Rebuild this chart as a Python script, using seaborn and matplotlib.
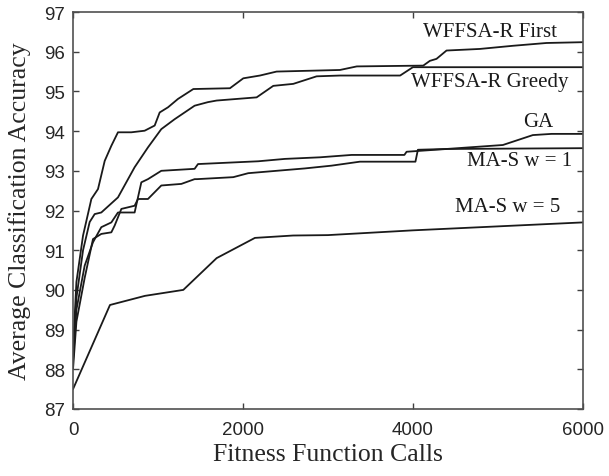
import pandas as pd
import seaborn as sns
import matplotlib.pyplot as plt

# values
first_x = [0, 40, 118, 216, 294, 373, 451, 529, 686, 843, 961, 1020, 1118, 1235, 1416, 1847, 2004,
           2200, 2396, 3141, 3340, 4122, 4200, 4278, 4396, 4788, 5180, 5573, 6000]
first_y = [88.5, 90.2, 91.37, 92.29, 92.54, 93.25, 93.63, 93.97, 93.97, 94.01, 94.14, 94.47, 94.6,
           94.81, 95.06, 95.08, 95.33, 95.40, 95.5, 95.54, 95.63, 95.65, 95.77, 95.82, 96.03, 96.07,
           96.15, 96.22, 96.24]

greedy_x = [0, 40, 118, 196, 255, 333, 529, 725, 882, 1039, 1196, 1431, 1588, 1690, 2161, 2357,
            2592, 2867, 3141, 3850, 4000, 6000]
greedy_y = [88.3, 89.8, 91.0, 91.71, 91.91, 91.95, 92.33, 93.09, 93.59, 94.05, 94.3, 94.64, 94.73,
            94.77, 94.85, 95.14, 95.19, 95.38, 95.4, 95.4, 95.61, 95.61]

ga_x = [0, 40, 137, 235, 333, 451, 490, 569, 725, 765, 882, 1039, 1275, 1431, 1459, 1886, 2062,
        2729, 3043, 3376, 4030, 4059, 4396, 5059, 5412, 5632, 6000]
ga_y = [88.0, 89.2, 90.3, 91.28, 91.41, 91.45, 91.62, 92.04, 92.12, 92.29, 92.29, 92.63, 92.67,
        92.79, 92.79, 92.84, 92.94, 93.06, 93.13, 93.23, 93.23, 93.53, 93.55, 93.65, 93.90, 93.93, 93.93]

mas1_x = [0, 40, 137, 235, 333, 451, 529, 725, 804, 882, 1039, 1431, 1471, 2180, 2494, 2906, 3279,
          3900, 3926, 4400, 6000]
mas1_y = [88.2, 89.5, 90.61, 91.2, 91.58, 91.70, 91.95, 91.95, 92.71, 92.79, 93.0, 93.05, 93.17,
          93.24, 93.30, 93.34, 93.40, 93.40, 93.48, 93.55, 93.57]

mas5_x = [0, 435, 847, 1298, 1690, 2141, 2590, 3000, 4000, 5000, 5500, 6000]
mas5_y = [87.5, 89.62, 89.85, 90.0, 90.8, 91.31, 91.37, 91.38, 91.5, 91.6, 91.65, 91.7]

names = ['WFFSA-R First', 'WFFSA-R Greedy', 'GA', 'MA-S w = 1', 'MA-S w = 5']
label_x = [4906, 4906, 5471, 5259, 5118]
label_y = [96.5, 95.24, 94.23, 93.25, 92.09]

series = [(first_x, first_y), (greedy_x, greedy_y), (ga_x, ga_y), (mas1_x, mas1_y), (mas5_x, mas5_y)]
frames = []
for name, (xs, ys) in zip(names, series):
    frames.append(pd.DataFrame({'calls': xs, 'acc': ys, 'method': name}))
df = pd.concat(frames, ignore_index=True)

sns.set_style('ticks')
plt.rcParams['font.family'] = ['Liberation Serif', 'DejaVu Serif']

fig = plt.figure(figsize=(6.09, 4.77), dpi=100)
ax = fig.add_axes([0.1199, 0.1405, 0.8371, 0.8322])

sns.lineplot(data=df, x='calls', y='acc', hue='method', palette=['#1a1a1a'] * 5,
             estimator=None, sort=False, linewidth=1.3, legend=False, ax=ax)

for name, lx, ly in zip(names, label_x, label_y):
    ax.text(lx, ly, name, ha='center', va='center', fontsize=15, color='#1a1a1a')

ax.set_xlim(0, 6000)
ax.set_ylim(87, 97)
ax.set_xticks([0, 2000, 4000, 6000])
ax.set_yticks(range(87, 98))
ax.tick_params(direction='in', top=True, right=True, length=4, width=1, color='#404040')
ax.tick_params(axis='x', pad=9)
ax.tick_params(axis='y', pad=6)
for lab in ax.get_xticklabels() + ax.get_yticklabels():
    lab.set_family(['Liberation Sans', 'DejaVu Sans'])
    lab.set_fontsize(13.5)
for sp in ax.spines.values():
    sp.set_visible(True)
    sp.set_color('#505050')
    sp.set_linewidth(1.2)

ax.set_xlabel('Fitness Function Calls', fontsize=18.5, labelpad=3)
ax.set_ylabel('Average Classification Accuracy', fontsize=18.5, labelpad=9)

fig.savefig('out.png', dpi=100)
